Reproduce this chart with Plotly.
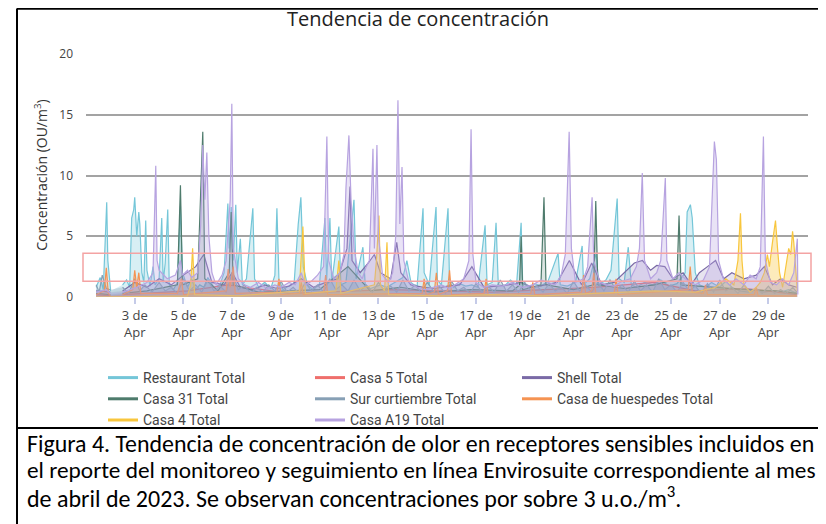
import pandas as pd
import plotly.graph_objects as go

# ---------------- data (hours since 2023-04-01 00:00, concentration OU/m3) ----------------
restaurant = [(10,0.8),(14,1.6),(17,0.6),(19,5.8),(20.4,7.8),(21.5,3.0),(23,1.2),(24.3,0.5),(30,None),
    (36,1.0),(40,1.4),(43,0.8),(45,6.5),(47,7.2),(48,8.2),(50,5.0),(52,7.0),(53,6.0),(55,2.0),(57,1.2),
    (58.8,6.3),(60,2.2),(63,0.9),(66,2.5),(68,1.0),(72,1.5),(74.6,6.5),(76,1.2),(78,2.8),(80.5,7.2),(82,1.0),
    (86,0.6),(90,1.2),(93,7.5),(95,2.0),(100,0.8),(104,1.5),(108,0.6),(112,1.0),(116,0.8),(120,1.6),(126,0.8),
    (132,1.0),(136,2.0),(139.7,7.7),(141,4.0),(143,7.4),(145,3.0),(147.5,7.6),(149,2.0),(152,4.8),(154,1.0),
    (158,1.5),(164.3,7.3),(166,1.5),(170,0.8),(176,1.2),(182,0.7),(186,1.8),(188,7.3),(190,1.4),(194,0.6),
    (200,0.9),(205,1.2),(209,6.0),(211.6,8.2),(214,2.5),(218,1.0),(224,0.6),(230,1.1),(235.3,6.5),(237,1.4),
    (240.2,6.5),(242,1.2),(249,5.8),(251,1.0),(256,1.2),(263.9,8.0),(266,1.5),(272.7,4.1),(275,1.0),(280,0.7),
    (290,1.0),(296,0.8),(304,1.2),(312,1.6),(316,3.0),(320,1.2),(326,0.8),(331.9,7.3),(333,2.0),(338,1.0),
    (344.7,7.4),(346,1.4),(350,1.0),(356.5,7.3),(358,1.2),(362,0.8),(368,1.1),(374,0.9),(380,1.0),(386,0.8),
    (393,5.9),(395,1.0),(400,1.2),(403.8,6.1),(406,1.0),(412,0.9),(418,1.4),(424,1.0),(428.5,6.1),(430,1.2),
    (436,0.8),(442,1.1),(448,0.9),(455,1.3),(464.9,3.6),(467,1.0),(474,0.9),(482,1.2),(488.6,4.2),(490,1.0),
    (496,1.5),(502.4,3.6),(505,1.0),(512,1.4),(517,2.2),(523.1,8.1),(525,1.5),(530,1.2),(534,4.1),(537,1.0),
    (542,0.8),(550,1.2),(558,1.0),(566,1.4),(574,0.9),(582,1.1),(590,2.0),(592,7.0),(595.2,7.6),(597,6.5),
    (600,2.0),(604,1.0),(610,0.8),(616,1.2),(624,0.8),(630,1.3),(636,0.8),(644,0.5),(652,0.4),(660,0.6),
    (668,0.4),(676,0.5),(684,0.4),(692,0.6),(700,0.3)]

casa5 = [(10,0.2),(24,0.1),(30,None),(36,0.2),(100,0.5),(140,1.0),(200,0.3),(300,0.6),(400,0.4),
    (500,0.8),(560,1.2),(600,0.5),(650,0.7),(700,0.2)]

shell = [(10,0.5),(24,0.4),(30,None),(36,0.5),(48,1.2),(60,0.8),(72,1.5),(84,1.0),(96,1.8),(108,2.5),
    (116,3.5),(124,1.2),(136,1.0),(144,2.0),(152,0.8),(164,0.6),(176,1.0),(188,0.7),(200,0.9),(212,1.5),
    (224,0.8),(236,1.2),(248,1.5),(257,4.0),(260,9.1),(262,3.0),(270,2.0),(278,2.8),(284,3.5),(290,2.0),
    (300,1.5),(306,4.5),(310,2.0),(320,1.0),(332,0.8),(344,0.7),(356,0.9),(368,1.0),(380,2.5),(392,0.8),
    (404,0.9),(416,1.0),(428,1.2),(440,0.8),(452,1.0),(464,1.2),(476,3.0),(488,1.0),(498,2.8),(508,1.0),
    (520,1.2),(530,2.0),(540,2.8),(548,3.0),(556,2.2),(562,2.6),(570,2.5),(578,1.5),(588,2.0),(596,1.0),
    (604,2.0),(612,2.5),(620,3.0),(628,1.5),(636,2.0),(648,1.5),(660,1.8),(668,2.5),(676,1.0),(684,1.5),
    (692,1.0),(700,0.8)]

casa31 = [(10,0.3),(24,0.2),(30,None),(36,0.3),(60,0.5),(90,1.0),(93,9.2),(95,1.0),(110,1.5),(115,13.6),
    (117,1.5),(130,0.5),(141,2.0),(143,7.0),(145,1.0),(170,0.4),(200,0.5),(230,0.6),(258,2.5),(280,0.5),
    (310,0.8),(340,0.4),(380,0.6),(420,0.5),(427,1.0),(428.5,5.0),(430,0.6),(448,1.0),(451,8.2),(453,1.0),
    (480,0.6),(500,1.0),(502,7.9),(504,1.0),(530,0.7),(560,1.0),(582,1.5),(584,6.7),(586,1.0),(620,0.8),
    (650,0.6),(680,0.5),(700,0.3)]

sur_curtiembre = [(10,1.0),(13,0.4),(16,1.8),(20,0.7),(24,0.6),(30,None),(36,0.8),(42,0.3),(48,1.5),
    (53,0.5),(58,1.0),(65,0.4),(72,1.2),(78,0.5),(84,0.8),(90,0.3),(96,1.5),(102,0.5),(108,1.0),(114,0.4),
    (120,1.4),(126,0.5),(132,0.9),(138,0.4),(144,2.0),(150,0.6),(156,1.0),(162,0.3),(168,0.8),(174,0.4),
    (180,1.0),(186,0.5),(192,1.3),(198,0.4),(204,0.8),(210,0.3),(216,1.2),(222,0.5),(228,1.0),(234,0.4),
    (240,1.5),(246,0.6),(252,1.0),(258,0.5),(264,1.4),(270,0.5),(276,1.0),(282,0.4),(288,1.2),(294,0.5),
    (300,0.9),(306,0.4),(312,1.4),(318,0.5),(324,1.0),(330,0.4),(336,1.2),(342,0.5),(348,0.9),(354,0.3),
    (360,1.3),(366,0.5),(372,0.8),(378,0.3),(384,1.1),(390,0.4),(396,0.9),(402,0.4),(408,1.4),(414,0.5),
    (420,1.0),(426,0.4),(432,1.2),(438,0.5),(444,0.9),(450,0.4),(456,1.1),(462,0.5),(468,0.8),(474,0.3),
    (480,1.3),(486,0.5),(492,1.0),(498,0.4),(504,1.2),(510,0.5),(516,1.4),(522,0.6),(528,1.0),(534,0.4),
    (540,1.3),(546,0.5),(552,1.0),(558,0.4),(564,1.5),(570,0.6),(576,1.0),(582,0.4),(588,1.2),(594,0.5),
    (600,0.9),(606,0.3),(612,1.1),(618,0.4),(624,1.4),(630,0.5),(636,0.8),(642,0.3),(648,1.0),(654,0.4),
    (660,0.7),(666,0.3),(672,0.9),(678,0.3),(684,0.6),(690,0.3),(696,0.8),(700,0.4)]

huespedes = [(10,0.2),(18,0.5),(20,2.4),(22,0.3),(24,0.1),(30,None),(36,0.2),(46,0.6),(48,2.2),(50,0.8),
    (52,2.0),(54,0.3),(90,0.3),(94,1.5),(96,0.2),(138,0.5),(140,2.3),(142,0.8),(145,2.5),(147,0.3),
    (188,0.4),(190,1.5),(192,0.2),(210,0.3),(212,1.2),(214,0.2),(234,0.4),(236,1.8),(238,0.2),(331,0.3),
    (333,1.5),(335,0.2),(343,0.4),(345,2.0),(347,0.2),(356,0.5),(358,2.2),(360,0.2),(392,0.3),(394,1.5),
    (396,0.2),(438,0.3),(440,1.2),(442,0.2),(488,0.4),(490,1.8),(492,0.3),(498,0.5),(500,2.0),(502,0.3),
    (520,0.3),(522,1.5),(524,0.2),(593,0.6),(595,2.5),(597,0.4),(608,0.3),(610,1.0),(612,0.2),(658,0.2),
    (660,0.8),(662,0.1),(700,0.1)]

casa4 = [(10,0.0),(100,0.1),(103,1.0),(105,4.0),(107,0.2),(150,0.1),(210,0.5),(213.6,5.8),(216,0.3),
    (246,0.5),(249,3.0),(251,0.3),(284,1.0),(286,3.0),(288.5,6.7),(290,1.0),(294,0.5),(296.4,4.5),(298,0.2),
    (350,0.1),(400,0.2),(450,0.1),(500,0.3),(560,0.5),(600,0.4),(620,0.8),(630,1.5),(638,1.0),(642,3.0),
    (644.5,6.9),(646,3.0),(648,1.0),(654,0.4),(660,0.8),(664,1.2),(668,2.0),(671,3.5),(673,2.5),(676,4.5),
    (679,6.3),(681,4.0),(683,2.0),(686,0.8),(689,2.5),(692,4.0),(694,3.5),(695.8,5.4),(697,4.5),(699,2.0),
    (700.5,0.5)]

casa_a19 = [(10,0.4),(20,0.6),(24,0.3),(30,None),(36,0.4),(50,0.8),(60,1.2),(66,2.0),(68.7,10.8),(70,3.0),
    (72,2.2),(80,1.5),(88,1.8),(93,3.0),(95,1.8),(100,2.2),(104,1.6),(110,2.0),(113,6.0),(115,12.5),(117,8.0),
    (119,11.9),(121,5.0),(124,2.0),(128,1.0),(134,1.8),(138,3.0),(142,8.0),(143.6,15.9),(145,4.0),(150,1.5),
    (156,1.0),(162,0.8),(170,1.2),(178,0.7),(186,1.0),(192,0.8),(200,1.2),(206,1.0),(212,2.0),(216,1.0),
    (222,1.3),(228,1.8),(234,2.5),(237.2,13.2),(239,3.0),(244,1.5),(250,2.0),(254,3.5),(256,9.0),(258.9,13.3),
    (261,8.0),(264,4.0),(268,2.0),(272,1.5),(276,2.5),(279,3.0),(282.6,12.2),(284,4.0),(286.5,12.5),(288,5.0),
    (292,1.8),(298,1.2),(302,2.0),(305,5.0),(307.2,16.2),(309,6.0),(311.2,10.7),(313,3.0),(318,1.2),(326,0.8),
    (334,0.6),(342,0.8),(350,1.0),(358,0.7),(366,1.2),(372,1.5),(377,3.0),(379.2,13.8),(381,3.5),(384,1.2),
    (392,0.8),(400,1.0),(410,0.9),(420,1.2),(430,0.8),(440,1.0),(448,1.4),(456,1.2),(462,1.0),(468,1.8),
    (472,3.5),(475.8,13.6),(478,4.0),(482,1.2),(490,1.5),(494,2.5),(498.4,8.2),(500,3.0),(506,1.2),(512,1.0),
    (520,0.9),(528,1.3),(536,1.5),(542,2.5),(545,4.0),(547.8,10.2),(550,3.0),(556,1.5),(562,2.0),(566,3.0),
    (570.5,9.8),(572,3.0),(578,1.5),(584,2.0),(590,1.5),(600,1.0),(608,1.4),(614,2.5),(618.8,12.8),
    (620.8,11.3),(623,3.0),(628,1.4),(634,1.0),(640,1.5),(648,1.0),(654,1.8),(660,1.5),(664,2.5),(667.1,13.2),
    (669,3.0),(674,1.2),(680,1.0),(686,1.5),(692,1.0),(697,2.0),(700.5,4.8),(701,0.2)]

series_names = ["Restaurant Total", "Casa 5 Total", "Shell Total", "Casa 31 Total",
                "Sur curtiembre Total", "Casa de huespedes Total", "Casa 4 Total", "Casa A19 Total"]
series_data = [restaurant, casa5, shell, casa31, sur_curtiembre, huespedes, casa4, casa_a19]
series_colors = ["#74c6d8", "#ef6f6c", "#7a6aa6", "#4e7b6c", "#87a0b5", "#f59352", "#f8c63d", "#b7a3e0"]
series_fills = ["rgba(116,198,216,0.28)", "rgba(239,111,108,0.2)", "rgba(122,106,166,0.18)",
                "rgba(78,123,108,0.2)", "rgba(135,160,181,0.3)", "rgba(245,147,82,0.3)",
                "rgba(248,198,61,0.35)", "rgba(183,163,224,0.3)"]

tick_days = [3, 5, 7, 9, 11, 13, 15, 17, 19, 21, 23, 25, 27, 29]
tick_text = [f"{d} de<br>Apr" for d in tick_days]
y_ticks = [0, 5, 10, 15, 20]

title_text = "Tendencia de concentración"
y_title = "Concentración (OU/m<sup>3</sup>)"
caption_lines = [
    "Figura 4. Tendencia de concentración de olor en receptores sensibles incluidos en",
    "el reporte del monitoreo y seguimiento en línea Envirosuite correspondiente al mes",
    "de abril de 2023. Se observan concentraciones por sobre 3 u.o./m<sup>3</sup>.",
]
caption_sizes = [23.9, 23.3, 24]
band_low, band_high = 1.3, 3.6

# ---------------- figure ----------------
# page body has an 8px margin; coordinates below are in reference-image pixels
OFF = 8
base = pd.Timestamp("2023-04-01")
W, H = 826 - OFF, 524 - OFF
PL, PR, PT, PB = 86, 808, 53, 297        # plot area in reference pixels
L, T = PL - OFF, PT - OFF
R, B = W - (PR - OFF), H - (PB - OFF)
PW, PH = PR - PL, PB - PT
Y_TOP = 20 * PH / (PB - 54)              # so that gridline 20 falls at y=54


def px(xr):
    return (xr - PL) / PW


def py(yr):
    return (PB - yr) / PH


fig = go.Figure()
for name, data, color, fillc in zip(series_names, series_data, series_colors, series_fills):
    xs = [base + pd.Timedelta(hours=h) for h, _ in data]
    ys = [v for _, v in data]
    fig.add_trace(go.Scatter(x=xs, y=ys, mode="lines", name=name, showlegend=False,
                             line=dict(color=color, width=1.2), connectgaps=False,
                             fill="tozeroy", fillcolor=fillc))
# legend entries drawn as line keys, like the reference
for name, color in zip(series_names, series_colors):
    fig.add_trace(go.Scatter(x=[None], y=[None], mode="lines", name=name,
                             line=dict(color=color, width=3), showlegend=True))

fig.update_layout(
    width=W, height=H,
    margin=dict(l=L, r=R, t=T, b=B, autoexpand=False),
    paper_bgcolor="white", plot_bgcolor="white",
    font=dict(family="Open Sans, sans-serif", color="#444"),
    title=dict(text=title_text, xref="container", x=(418 - OFF) / W, xanchor="center",
               yref="container", y=1 - (19 - OFF) / H, yanchor="middle",
               font=dict(size=20, color="#222", family="Open Sans, sans-serif")),
    showlegend=True,
    legend=dict(orientation="h", x=px(103), xanchor="left", y=py(362), yanchor="top",
                entrywidth=162, entrywidthmode="pixels", tracegroupgap=0,
                font=dict(size=14, color="#444", family="Roboto, sans-serif"),
                bgcolor="rgba(0,0,0,0)"),
)

fig.update_xaxes(
    type="date",
    range=[base, base + pd.Timedelta(hours=711)],
    tickmode="array",
    tickvals=[base + pd.Timedelta(days=d - 1) for d in tick_days],
    ticktext=tick_text,
    ticks="outside", ticklen=6, tickcolor="#c5cbe8", tickwidth=1.5,
    tickfont=dict(size=13, color="#444"),
    showgrid=False, showline=False, zeroline=False,
)
fig.update_yaxes(
    range=[0, Y_TOP], tickmode="array", tickvals=y_ticks,
    showgrid=True, gridcolor="#a3a3a3", gridwidth=1.5,
    zeroline=False, showline=False,
    tickfont=dict(size=12, color="#444"),
    ticklabelstandoff=12,
    title=dict(text=y_title, standoff=8, font=dict(size=14, color="#333")),
)

# highlight band
fig.add_shape(type="rect", xref="paper", yref="y", x0=px(83), x1=px(811), y0=band_low, y1=band_high,
              line=dict(color="#f4a3a3", width=1.5), fillcolor="rgba(0,0,0,0)")

# frame lines
frame = dict(color="black", width=2)
fig.add_shape(type="line", xref="paper", yref="paper", x0=px(17), x1=px(17), y0=py(8.5), y1=py(530), line=frame)
fig.add_shape(type="line", xref="paper", yref="paper", x0=px(17), x1=px(830), y0=py(8.8), y1=py(8.8), line=frame)
fig.add_shape(type="line", xref="paper", yref="paper", x0=px(17), x1=px(830), y0=py(428), y1=py(428), line=frame)

for i, (line, size) in enumerate(zip(caption_lines, caption_sizes)):
    fig.add_annotation(text=line, xref="paper", yref="paper", x=px(25), y=py(443 + 27 * i),
                       xanchor="left", yanchor="middle", showarrow=False,
                       font=dict(size=size, color="black", family="Carlito, Liberation Sans, sans-serif"))

fig.write_html("out.html")
